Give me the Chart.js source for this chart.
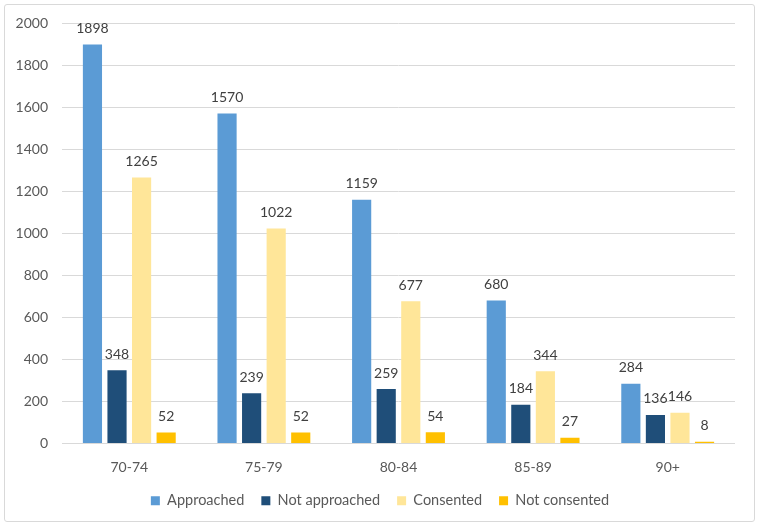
<!DOCTYPE html>
<html>
<head>
<meta charset="utf-8">
<script src="https://cdn.jsdelivr.net/npm/chart.js@4"></script>
<style>
  body { margin: 0; background: #fff; }
  #ageChart { position: absolute; left: 0; top: 0; }
  #frame {
    position: absolute; left: 4px; top: 4px;
    width: 751px; height: 518px;
    border: 1px solid #d9d9d9; border-radius: 3px;
    box-sizing: border-box; pointer-events: none;
  }
</style>
</head>
<body>
<canvas id="ageChart" width="760" height="526"></canvas>
<div id="frame"></div>
<script>
const ageGroups = ['70-74', '75-79', '80-84', '85-89', '90+'];
const approached = [1898, 1570, 1159, 680, 284];
const notApproached = [348, 239, 259, 184, 136];
const consented = [1265, 1022, 677, 344, 146];
const notConsented = [52, 52, 54, 27, 8];
const yTicks = [0, 200, 400, 600, 800, 1000, 1200, 1400, 1600, 1800, 2000];

const FONT = 'Lato, "Open Sans", sans-serif';

// draws the value above each bar
const barLabels = {
    id: 'barLabels',
    afterDatasetsDraw(chart) {
        const ctx = chart.ctx;
        ctx.save();
        ctx.font = '14px ' + FONT;
        ctx.fillStyle = '#404040';
        ctx.textAlign = 'center';
        ctx.textBaseline = 'bottom';
        chart.data.datasets.forEach((ds, i) => {
            chart.getDatasetMeta(i).data.forEach((bar, j) => {
                ctx.fillText(ds.data[j], bar.x, bar.y - 9);
            });
        });
        ctx.restore();
    }
};

const chartCtx = document.getElementById('ageChart').getContext('2d');
const myBarChart = new Chart(chartCtx, {
    type: 'bar',
    data: {
        labels: ageGroups,
        datasets: [
            { label: 'Approached', data: approached, backgroundColor: '#5b9bd5' },
            { label: 'Not approached', data: notApproached, backgroundColor: '#1f4e79' },
            { label: 'Consented', data: consented, backgroundColor: '#ffe699' },
            { label: 'Not consented', data: notConsented, backgroundColor: '#ffc000' }
        ]
    },
    options: {
        responsive: false,
        animation: false,
        datasets: {
            bar: { barPercentage: 0.78, categoryPercentage: 0.73 }
        },
        layout: { padding: { left: 0, right: 0, top: 23, bottom: 8 } },
        scales: {
            x: {
                grid: { display: false, drawTicks: false },
                border: { display: false },
                ticks: {
                    color: '#595959',
                    font: { size: 14, family: FONT, lineHeight: 1 },
                    padding: 17
                },
                afterFit(scale) { scale.height = 33; }
            },
            y: {
                min: 0,
                max: 2000,
                afterBuildTicks(axis) { axis.ticks = yTicks.map(v => ({ value: v })); },
                afterFit(scale) { scale.width = 62; },
                grid: { color: '#d9d9d9', drawTicks: false },
                border: { display: false },
                ticks: {
                    color: '#595959',
                    font: { size: 14, family: FONT },
                    padding: 14,
                    callback: v => String(v)
                }
            },
            // empty spacer on the right so the legend stays centred on the page
            spacer: {
                type: 'linear',
                position: 'right',
                display: true,
                grid: { display: false, drawTicks: false },
                border: { display: false },
                ticks: { display: false },
                afterFit(scale) { scale.width = 25; }
            }
        },
        plugins: {
            legend: {
                display: true,
                position: 'bottom',
                labels: {
                    color: '#595959',
                    font: { size: 14.5, family: FONT, lineHeight: 1 },
                    boxWidth: 9,
                    boxHeight: 9,
                    padding: 17
                }
            },
            tooltip: { enabled: false }
        }
    },
    plugins: [barLabels]
});
</script>
</body>
</html>
